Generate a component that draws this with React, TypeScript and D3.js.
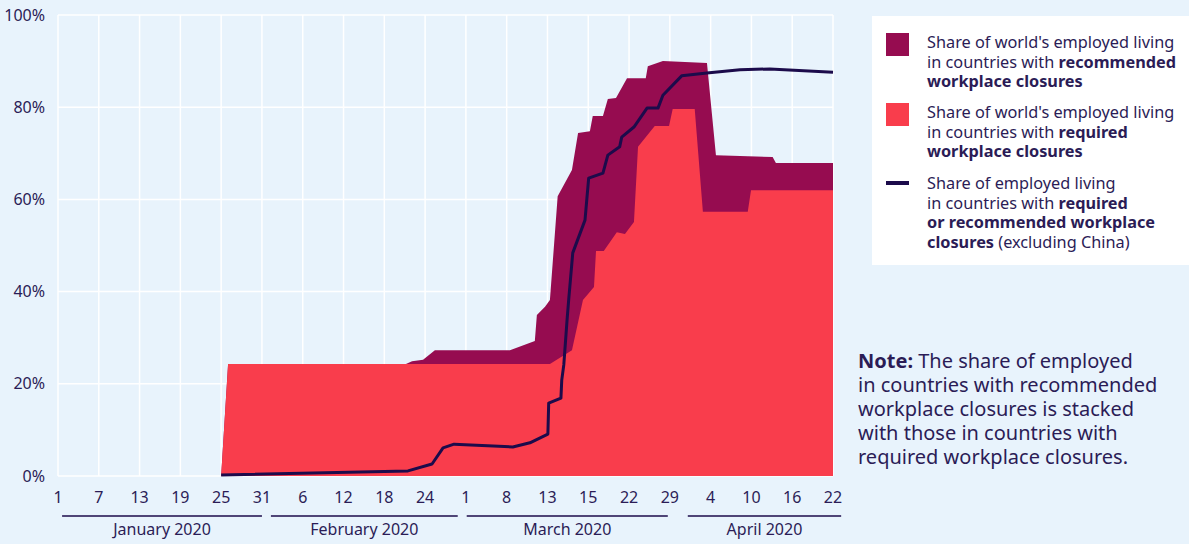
import React from 'react';
import * as d3 from 'd3';

// x positions are in axis-step units (one step between neighbouring tick labels)
const tickLabels = ['1', '7', '13', '19', '25', '31', '6', '12', '18', '24', '1', '8', '13', '15', '22', '29', '4', '10', '16', '22'];

const months: [string, number, number][] = [
  ['January 2020', 0.1, 5],
  ['February 2020', 5.22, 9.8],
  ['March 2020', 10.02, 14.95],
  ['April 2020', 15.44, 19.2],
];

const yTicks = [0, 20, 40, 60, 80, 100];

// required + recommended (stacked top)
const totalShare: [number, number][] = [
  [4.0, 0], [4.17, 24.3], [8.53, 24.3], [8.68, 24.9], [8.95, 25.2], [9.24, 27.3],
  [11.08, 27.3], [11.69, 29.3], [11.74, 34.9], [11.94, 36.7], [12.06, 38.2],
  [12.25, 60.7], [12.6, 66.4], [12.75, 74.4], [13.04, 74.8], [13.11, 78.1],
  [13.36, 78.1], [13.48, 81.8], [13.68, 82.0], [13.95, 86.3], [14.41, 86.3],
  [14.46, 88.9], [14.83, 90.0], [15.91, 89.6], [16.13, 69.6], [17.52, 69.2],
  [17.6, 67.9], [19.0, 67.9],
];

const requiredShare: [number, number][] = [
  [4.0, 0], [4.17, 24.3], [12.06, 24.3], [12.6, 27.3], [12.87, 38.2], [13.14, 41.0],
  [13.19, 48.8], [13.38, 48.8], [13.7, 52.9], [13.9, 52.5], [14.12, 55.1],
  [14.22, 71.4], [14.63, 75.9], [14.98, 75.9], [15.07, 79.6], [15.61, 79.6],
  [15.81, 57.3], [16.91, 57.3], [16.99, 62.0], [19.0, 62.0],
];

const exChinaShare: [number, number][] = [
  [4.0, 0.2], [8.58, 1.1], [9.17, 2.6], [9.44, 6.1], [9.71, 6.9], [11.15, 6.3],
  [11.57, 7.2], [12.01, 9.1], [12.03, 15.8], [12.33, 16.9], [12.35, 20.8],
  [12.4, 24.1], [12.48, 33.8], [12.52, 38.2], [12.62, 48.4], [12.92, 55.5],
  [13.01, 64.6], [13.36, 65.7], [13.48, 69.6], [13.77, 71.4], [13.82, 73.5],
  [14.12, 75.7], [14.44, 79.8], [14.71, 79.8], [14.83, 82.6], [15.29, 86.8],
  [15.91, 87.4], [16.72, 88.1], [17.45, 88.3], [19.0, 87.6],
];

const W = 1189;
const H = 544;
const BG = '#e8f3fc';
const PURPLE = '#960c50';
const RED = '#f93d4c';
const NAVY = '#1c0b4b';
const TEXT = '#2b1c56';
const FONT = '"Noto Sans", "Open Sans", sans-serif';

const App: React.FC = () => {
  const x = d3.scaleLinear().domain([0, 19]).range([58, 833]);
  const y = d3.scaleLinear().domain([0, 100]).range([476, 15]);

  const area = d3.area<[number, number]>()
    .x(d => x(d[0]))
    .y0(y(0))
    .y1(d => y(d[1]));
  const line = d3.line<[number, number]>()
    .x(d => x(d[0]))
    .y(d => y(d[1]));

  const legend = [
    { kind: 'box', color: PURPLE, y: 33, lines: [[["Share of world's employed living", false]], [['in countries with ', false], ['recommended', true]], [['workplace closures', true]]] },
    { kind: 'box', color: RED, y: 103, lines: [[["Share of world's employed living", false]], [['in countries with ', false], ['required', true]], [['workplace closures', true]]] },
    { kind: 'line', color: NAVY, y: 174, lines: [[['Share of employed living', false]], [['in countries with ', false], ['required', true]], [['or recommended workplace', true]], [['closures', true], [' (excluding China)', false]]] },
  ] as any[];

  return (
    <div style={{ position: 'fixed', left: 0, top: 0 }}>
      <svg width={W} height={H} style={{ display: 'block', fontFamily: FONT }}>
        <rect width={W} height={H} fill={BG} />

        {/* grid */}
        {tickLabels.map((_, i) => (
          <line key={'v' + i} x1={x(i)} x2={x(i)} y1={y(100)} y2={y(0)} stroke="#fff" strokeWidth={1.5} />
        ))}
        {yTicks.map(t => (
          <line key={'h' + t} x1={x(0)} x2={x(19)} y1={y(t)} y2={y(t)} stroke="#fff" strokeWidth={1.5} />
        ))}

        {/* stacked areas */}
        <path d={area(totalShare) || ''} fill={PURPLE} />
        <path d={area(requiredShare) || ''} fill={RED} />
        <path d={line(exChinaShare) || ''} fill="none" stroke={NAVY} strokeWidth={3} strokeLinejoin="round" />

        {/* y axis labels */}
        {yTicks.map(t => (
          <text key={'yl' + t} x={45} y={y(t)} dy="0.35em" textAnchor="end" fontSize={16} fill={TEXT}>{t}%</text>
        ))}

        {/* x axis labels */}
        {tickLabels.map((l, i) => (
          <text key={'xl' + i} x={x(i)} y={497} dy="0.35em" textAnchor="middle" fontSize={16} fill={TEXT}>{l}</text>
        ))}
        {months.map(([name, a, b]) => (
          <g key={name}>
            <line x1={x(a)} x2={x(b)} y1={516} y2={516} stroke={NAVY} strokeWidth={1.5} />
            <text x={(x(a) + x(b)) / 2} y={529} dy="0.35em" textAnchor="middle" fontSize={16} fill={TEXT}>{name}</text>
          </g>
        ))}

        {/* legend */}
        <rect x={872} y={16} width={W - 872} height={249} fill="#fff" />
        {legend.map((item, k) => (
          <g key={'lg' + k}>
            {item.kind === 'box'
              ? <rect x={886} y={item.y} width={23} height={23} fill={item.color} />
              : <rect x={886} y={item.y + 7} width={23} height={4} fill={item.color} />}
            {item.lines.map((row: [string, boolean][], r: number) => (
              <text key={r} x={927} y={item.y + 9 + r * 19.8} dy="0.35em" fontSize={16.3} fill={TEXT}>
                {row.map(([s, b], j) => (
                  <tspan key={j} fontWeight={b ? 700 : 400}>{s}</tspan>
                ))}
              </text>
            ))}
          </g>
        ))}

        {/* note */}
        <g fontSize={20} fill={TEXT}>
          <text x={858} y={361} dy="0.35em"><tspan fontWeight={700}>Note:</tspan> The share of employed</text>
          <text x={858} y={385} dy="0.35em">in countries with recommended</text>
          <text x={858} y={409} dy="0.35em">workplace closures is stacked</text>
          <text x={858} y={433} dy="0.35em">with those in countries with</text>
          <text x={858} y={457} dy="0.35em">required workplace closures.</text>
        </g>
      </svg>
    </div>
  );
};

export default App;
